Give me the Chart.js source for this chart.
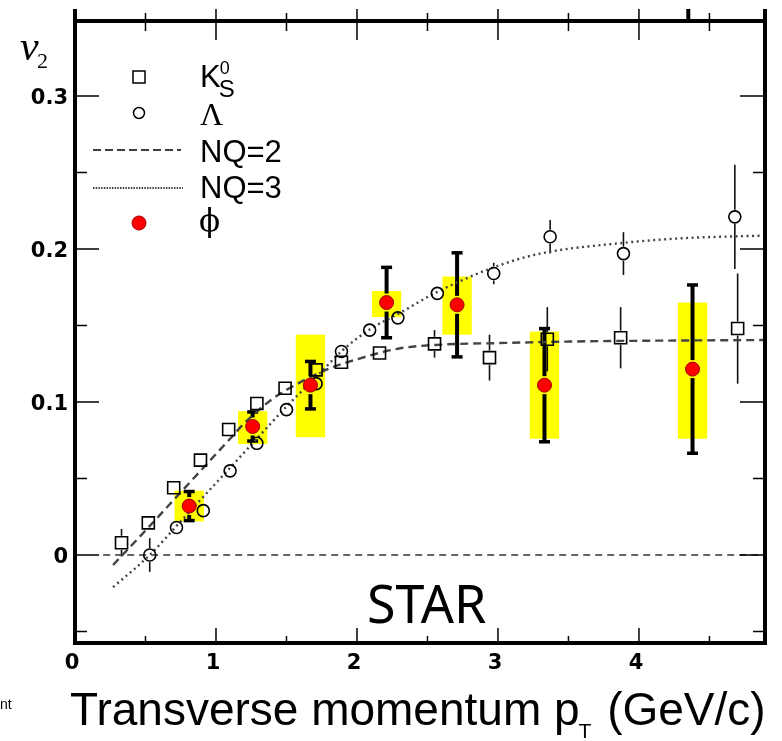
<!DOCTYPE html>
<html>
<head>
<meta charset="utf-8">
<script src="https://cdn.jsdelivr.net/npm/chart.js@4.4.0/dist/chart.umd.min.js"></script>
<style>
  html, body { margin: 0; padding: 0; background: #fff; }
  canvas { display: block; }
</style>
</head>
<body>
<canvas id="v2-chart" width="782" height="741"></canvas>
<script>
// K0S points
const k0sPt  = [0.33, 0.52, 0.70, 0.89, 1.09, 1.29, 1.49, 1.71, 1.89, 2.16, 2.55, 2.94, 3.35, 3.87, 4.70];
const k0sV2  = [0.008, 0.021, 0.044, 0.062, 0.082, 0.099, 0.109, 0.121, 0.126, 0.132, 0.138, 0.129, 0.141, 0.142, 0.148];
const k0sErr = [0.009, 0.004, 0.003, 0.003, 0.003, 0.003, 0.003, 0.004, 0.004, 0.004, 0.009, 0.015, 0.021, 0.020, 0.036];

// Lambda points
const lamPt  = [0.53, 0.72, 0.91, 1.10, 1.29, 1.50, 1.71, 1.89, 2.09, 2.29, 2.57, 2.97, 3.37, 3.89, 4.68];
const lamV2  = [0.0, 0.018, 0.029, 0.055, 0.073, 0.095, 0.112, 0.133, 0.147, 0.155, 0.171, 0.184, 0.208, 0.197, 0.221];
const lamErr = [0.011, 0.003, 0.003, 0.003, 0.003, 0.003, 0.003, 0.003, 0.003, 0.004, 0.004, 0.007, 0.011, 0.014, 0.034];

// phi points, stat errors and systematic band
const phiPt     = [0.81, 1.26, 1.67, 2.21, 2.71, 3.33, 4.38];
const phiV2     = [0.032, 0.084, 0.111, 0.165, 0.1635, 0.111, 0.1215];
const phiErr    = [0.0095, 0.0095, 0.0155, 0.023, 0.034, 0.037, 0.055];
const phiSysLow = [0.022, 0.0725, 0.077, 0.1555, 0.144, 0.076, 0.076];
const phiSysHigh= [0.042, 0.094, 0.144, 0.1725, 0.182, 0.146, 0.165];

// NQ scaling curves
const nq2Pt = [0.27, 0.5, 0.75, 0.96, 1.1, 1.2, 1.4, 1.56, 1.78, 1.95, 2.3, 2.6, 3.0, 3.5, 4.0, 4.9];
const nq2V2 = [-0.0065, 0.016, 0.041, 0.062, 0.076, 0.086, 0.102, 0.111, 0.121, 0.1265, 0.135, 0.1375, 0.1385, 0.1395, 0.140, 0.1405];
const nq3Pt = [0.27, 0.53, 0.75, 1.0, 1.25, 1.5, 1.75, 1.9, 2.1, 2.3, 2.57, 2.97, 3.3, 3.89, 4.3, 4.9];
const nq3V2 = [-0.021, 0.0, 0.022, 0.047, 0.072, 0.097, 0.120, 0.134, 0.148, 0.158, 0.172, 0.188, 0.197, 0.204, 0.207, 0.2088];

// zero line
const zeroPt = [0.2, 4.89];
const zeroV2 = [0, 0];

const xMin = 0, xMax = 4.894;
const yMin = -0.0575, yMax = 0.349;
const boxHalf = 0.104;

const toPoints = (xs, ys) => xs.map((x, i) => ({ x: x, y: ys[i] }));

function vbar(ctx, x, yc, yTop, yBot, gap) {
  if (yTop < yc - gap) { ctx.beginPath(); ctx.moveTo(x, yTop); ctx.lineTo(x, yc - gap); ctx.stroke(); }
  if (yBot > yc + gap) { ctx.beginPath(); ctx.moveTo(x, yc + gap); ctx.lineTo(x, yBot); ctx.stroke(); }
}

// yellow boxes + error bars, under the markers
const errorBars = {
  id: 'errorBars',
  beforeDatasetsDraw(chart) {
    const ctx = chart.ctx, xs = chart.scales.x, ys = chart.scales.y;
    ctx.save();
    ctx.fillStyle = '#ffff00';
    phiPt.forEach((pt, i) => {
      const x0 = xs.getPixelForValue(pt - boxHalf), x1 = xs.getPixelForValue(pt + boxHalf);
      const y0 = ys.getPixelForValue(phiSysHigh[i]), y1 = ys.getPixelForValue(phiSysLow[i]);
      ctx.fillRect(x0, y0, x1 - x0, y1 - y0);
    });

    ctx.strokeStyle = '#111';
    ctx.lineWidth = 1.6;
    k0sPt.forEach((pt, i) => {
      const x = xs.getPixelForValue(pt);
      vbar(ctx, x, ys.getPixelForValue(k0sV2[i]), ys.getPixelForValue(k0sV2[i] + k0sErr[i]), ys.getPixelForValue(k0sV2[i] - k0sErr[i]), 7);
    });
    lamPt.forEach((pt, i) => {
      const x = xs.getPixelForValue(pt);
      vbar(ctx, x, ys.getPixelForValue(lamV2[i]), ys.getPixelForValue(lamV2[i] + lamErr[i]), ys.getPixelForValue(lamV2[i] - lamErr[i]), 7);
    });

    ctx.strokeStyle = '#000';
    phiPt.forEach((pt, i) => {
      const x = xs.getPixelForValue(pt);
      const yc = ys.getPixelForValue(phiV2[i]);
      const yt = ys.getPixelForValue(phiV2[i] + phiErr[i]);
      const yb = ys.getPixelForValue(phiV2[i] - phiErr[i]);
      ctx.lineWidth = 4;
      vbar(ctx, x, yc, yt, yb, 9);
      ctx.lineWidth = 3.5;
      [yt, yb].forEach(y => {
        ctx.beginPath(); ctx.moveTo(x - 5.5, y); ctx.lineTo(x + 5.5, y); ctx.stroke();
      });
    });
    ctx.restore();
  }
};

// frame, inward ticks, legend and texts
const decorations = {
  id: 'decorations',
  afterDraw(chart) {
    const ctx = chart.ctx, xs = chart.scales.x, ys = chart.scales.y;
    const a = chart.chartArea;
    ctx.save();
    ctx.strokeStyle = '#000';

    // ticks
    ctx.lineWidth = 1.5;
    xs.ticks.forEach(t => {
      const v = t.value;
      if (v <= xMin + 1e-6) return;
      const x = xs.getPixelForValue(v);
      const major = Math.abs(v - Math.round(v)) < 1e-6;
      ctx.beginPath();
      ctx.moveTo(x, a.bottom); ctx.lineTo(x, a.bottom - (major ? 15 : 7));
      ctx.moveTo(x, a.top - (major ? 12 : 8)); ctx.lineTo(x, a.top + (major ? 19 : 10));
      ctx.stroke();
    });
    ys.ticks.forEach(t => {
      const v = t.value;
      const y = ys.getPixelForValue(v);
      const major = Math.abs(v * 10 - Math.round(v * 10)) < 1e-6;
      ctx.beginPath();
      ctx.moveTo(a.left, y); ctx.lineTo(a.left + (major ? 24 : 12), y);
      ctx.moveTo(a.right, y); ctx.lineTo(a.right - (major ? 25 : 12), y);
      ctx.stroke();
    });

    // frame
    ctx.lineWidth = 4;
    ctx.beginPath();
    ctx.moveTo(a.left, a.top - 12); ctx.lineTo(a.left, a.bottom + 2);
    ctx.moveTo(a.left - 2, a.top); ctx.lineTo(a.right + 2, a.top);
    ctx.moveTo(a.right, a.top - 12); ctx.lineTo(a.right, a.bottom + 2);
    ctx.moveTo(a.left - 2, a.bottom); ctx.lineTo(a.right + 2, a.bottom);
    const stub = xs.getPixelForValue(4.35);
    ctx.moveTo(stub, a.top - 12); ctx.lineTo(stub, a.top);
    ctx.stroke();

    // legend
    const lx = 139, tx = 200;
    ctx.lineWidth = 1.5;
    ctx.strokeStyle = '#000';
    ctx.strokeRect(lx - 6, 71, 12, 12);
    ctx.beginPath(); ctx.arc(lx, 113, 5.5, 0, Math.PI * 2); ctx.stroke();
    ctx.lineWidth = 1.3;
    ctx.setLineDash([8, 4]);
    ctx.beginPath(); ctx.moveTo(93, 150); ctx.lineTo(181, 150); ctx.stroke();
    ctx.setLineDash([1.5, 1.2]);
    ctx.beginPath(); ctx.moveTo(93, 188); ctx.lineTo(183, 188); ctx.stroke();
    ctx.setLineDash([]);
    ctx.fillStyle = '#ff0000';
    ctx.strokeStyle = '#a00000';
    ctx.lineWidth = 1;
    ctx.beginPath(); ctx.arc(lx, 223, 7, 0, Math.PI * 2); ctx.fill(); ctx.stroke();

    ctx.fillStyle = '#000';
    ctx.textBaseline = 'alphabetic';
    ctx.textAlign = 'left';
    ctx.font = '31px "Liberation Sans", Arial, sans-serif';
    ctx.fillText('K', tx, 87);
    const kw = ctx.measureText('K').width;
    ctx.font = '18px "Liberation Sans", Arial, sans-serif';
    ctx.fillText('0', tx + kw - 1, 74);
    ctx.font = '24px "Liberation Sans", Arial, sans-serif';
    ctx.fillText('S', tx + kw - 2, 97);
    ctx.font = '32px "Liberation Serif", "Times New Roman", serif';
    ctx.fillText('\u039B', tx, 125);
    ctx.font = '31px "Liberation Sans", Arial, sans-serif';
    ctx.fillText('NQ=2', tx, 162);
    ctx.fillText('NQ=3', tx, 198);
    ctx.font = '31px "DejaVu Serif", "Liberation Serif", serif';
    ctx.fillText('\u03D5', tx - 1, 231);

    // v2 label
    ctx.font = 'italic 42px "Liberation Serif", "Times New Roman", serif';
    ctx.fillText('v', 20, 60);
    ctx.font = '22px "Liberation Serif", "Times New Roman", serif';
    ctx.fillText('2', 37, 68);

    // STAR
    ctx.font = '52px "Noto Sans", "Open Sans", sans-serif';
    ctx.fillText('STAR', 367, 623);

    // x title
    ctx.font = '46px "Liberation Sans", Arial, sans-serif';
    const part1 = 'Transverse momentum p';
    ctx.fillText(part1, 70, 725);
    let x = 70 + ctx.measureText(part1).width;
    ctx.font = '21px "Liberation Sans", Arial, sans-serif';
    ctx.fillText('T', x - 1, 738);
    x += ctx.measureText('T').width + 2;
    ctx.font = '46px "Liberation Sans", Arial, sans-serif';
    ctx.fillText(' (GeV/c)', x, 725);

    // cropped text fragment at the left edge
    ctx.font = '14px "Liberation Sans", Arial, sans-serif';
    ctx.fillText('nt', 0, 709);
    ctx.restore();
  }
};

const tickFont = { family: '"DejaVu Sans", Verdana, sans-serif', size: 21, weight: 'bold' };

new Chart(document.getElementById('v2-chart'), {
  type: 'scatter',
  data: {
    datasets: [
      {
        label: 'phi',
        data: toPoints(phiPt, phiV2),
        pointStyle: 'circle',
        pointRadius: 7,
        backgroundColor: '#ff0000',
        borderColor: '#a00000',
        borderWidth: 1,
        order: 0
      },
      {
        label: 'K0S',
        data: toPoints(k0sPt, k0sV2),
        pointStyle: 'rect',
        pointRadius: 8.5,
        backgroundColor: 'rgba(0,0,0,0)',
        borderColor: '#000',
        borderWidth: 1.6,
        order: 1
      },
      {
        label: 'Lambda',
        data: toPoints(lamPt, lamV2),
        pointStyle: 'circle',
        pointRadius: 6,
        backgroundColor: 'rgba(0,0,0,0)',
        borderColor: '#000',
        borderWidth: 1.6,
        order: 1
      },
      {
        label: 'NQ=2',
        data: toPoints(nq2Pt, nq2V2),
        showLine: true,
        pointRadius: 0,
        borderColor: '#444',
        borderWidth: 2.4,
        borderDash: [8, 5],
        cubicInterpolationMode: 'monotone',
        order: 2
      },
      {
        label: 'NQ=3',
        data: toPoints(nq3Pt, nq3V2),
        showLine: true,
        pointRadius: 0,
        borderColor: '#444',
        borderWidth: 2.4,
        borderDash: [2, 3.5],
        cubicInterpolationMode: 'monotone',
        order: 2
      },
      {
        label: 'zero',
        data: toPoints(zeroPt, zeroV2),
        showLine: true,
        pointRadius: 0,
        borderColor: '#333',
        borderWidth: 1.4,
        borderDash: [7, 5],
        order: 3
      }
    ]
  },
  options: {
    responsive: false,
    animation: false,
    events: [],
    layout: { padding: { top: 21, right: 17, left: 0, bottom: 0 } },
    scales: {
      x: {
        type: 'linear',
        min: xMin,
        max: xMax,
        grid: { display: false, drawTicks: false },
        border: { display: false },
        afterFit(scale) { scale.height = 98; },
        ticks: {
          stepSize: 0.5,
          includeBounds: false,
          autoSkip: false,
          maxRotation: 0,
          padding: 8,
          labelOffset: -3,
          color: '#000',
          font: tickFont,
          callback: v => Math.abs(v - Math.round(v)) < 1e-6 ? String(Math.round(v)) : ''
        }
      },
      y: {
        type: 'linear',
        min: yMin,
        max: yMax,
        grid: { display: false, drawTicks: false },
        border: { display: false },
        afterFit(scale) { scale.width = 75; },
        ticks: {
          stepSize: 0.05,
          includeBounds: false,
          autoSkip: false,
          padding: 7,
          labelOffset: 3,
          color: '#000',
          font: tickFont,
          callback: v => {
            const r = Math.round(v * 10);
            return Math.abs(v * 10 - r) < 1e-6 ? String(r / 10) : '';
          }
        }
      }
    },
    plugins: {
      legend: { display: false },
      tooltip: { enabled: false }
    }
  },
  plugins: [errorBars, decorations]
});
</script>
</body>
</html>
